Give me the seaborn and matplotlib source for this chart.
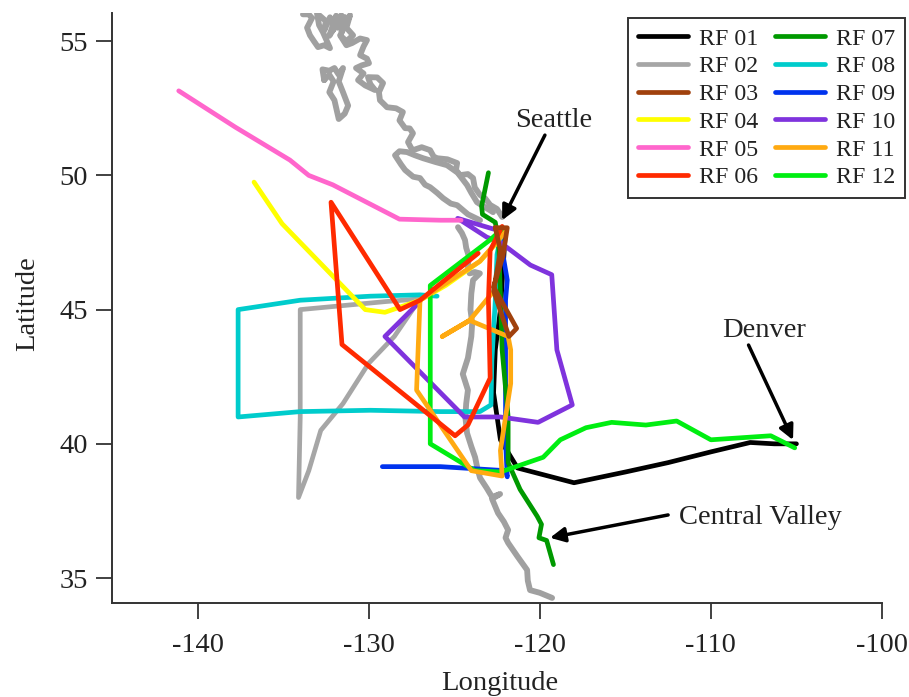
"""Flight tracks for research flights RF 01 - RF 12, plus the west coast outline."""

import matplotlib
matplotlib.use("Agg")
import matplotlib.pyplot as plt
import seaborn as sns

# Coast outline, one list per stretch
coast_north_lon = [-133.84, -133.5, -133.31, -133.6, -133.43, -133.2, -132.96, -132.6, -132.26, -132.67, -132.9, -133.02,
                   -132.5, -132.6, -132.26, -132.0, -132.3, -131.9, -132.1, -131.6, -131.8, -131.4, -131.6, -131.09,
                   -131.3, -130.91, -131.3, -131.67, -131.3, -130.97, -130.5, -130.1, -130.3, -130.5, -130.1, -129.98,
                   -130.4, -130.74, -130.3, -130.62, -130.2, -129.63, -129.9, -130.04, -129.5, -129.16, -129.4,
                   -129.34, -129.1, -128.93, -128.4, -128.0, -128.2, -127.87, -127.6, -127.41, -127.7, -127.5, -127.41,
                   -126.9, -126.41, -126.2, -126.0, -125.4, -124.83, -124.9, -124.66, -124.2, -123.9, -123.8, -123.49,
                   -123.2, -122.9, -122.5, -122.2]
coast_north_lat = [56.0, 56.0, 55.86, 55.5, 55.22, 55.0, 54.78, 54.85, 54.74, 55.33, 55.6, 56.04,
                   55.75, 55.4, 55.89, 55.5, 55.2, 55.95, 55.4, 55.97, 55.5, 55.9, 55.3, 55.97,
                   55.5, 55.22, 55.0, 55.22, 54.85, 54.93, 55.1, 55.04, 54.8, 54.48, 54.35, 54.18,
                   54.1, 54.0, 53.8, 53.55, 53.35, 53.18, 53.4, 53.66, 53.65, 53.44, 53.1,
                   52.8, 52.65, 52.54, 52.5, 52.36, 52.05, 51.76, 51.75, 51.57, 51.24, 51.0, 50.94,
                   51.05, 50.94, 50.7, 50.64, 50.6, 50.46, 50.2, 50.01, 50.05, 49.9, 49.55, 49.27,
                   49.15, 48.9, 48.75, 48.45]
coast_island_lon = [-123.49, -124.2, -124.83, -125.2, -125.65, -126.0, -126.41, -126.7, -127.0, -127.4, -127.87, -128.1,
                    -128.46, -128.2, -127.76, -127.3, -126.82, -126.1, -125.42, -124.8, -124.25, -124.0, -123.67, -122.73]
coast_island_lat = [48.33, 48.55, 48.89, 48.95, 49.15, 49.35, 49.56, 49.65, 49.9, 49.95, 50.2, 50.4,
                    50.75, 50.9, 50.87, 50.75, 50.64, 50.5, 50.38, 50.1, 49.64, 49.35, 49.0, 48.63]
coast_haida_lon = [-132.6, -132.7, -132.3, -132.0, -131.75, -131.5, -131.75, -131.5, -131.2, -131.4, -131.75, -132.0,
                   -132.3, -132.05, -132.3, -132.6]
coast_haida_lat = [53.55, 53.95, 53.9, 54.0, 53.75, 54.0, 53.5, 53.1, 52.6, 52.3, 52.1, 52.8,
                   53.1, 53.5, 53.75, 53.55]
coast_south_lon = [-124.78, -124.55, -124.37, -124.3, -124.15, -124.2, -124.1, -123.8, -123.5, -123.9, -124.0, -124.05, -123.95,
                   -124.0, -124.1, -124.2, -124.5, -124.35, -124.2, -124.3, -124.35, -124.25, -124.0, -123.78, -123.65, -123.49,
                   -123.1, -122.79, -122.32, -122.79, -122.44, -122.1, -121.85, -122.0, -121.85, -121.3, -120.74, -120.7, -120.57,
                   -120.0, -119.28]
coast_south_lat = [48.07, 47.85, 47.59, 47.3, 47.0, 46.6, 46.35, 46.4, 46.35, 46.1, 45.6, 45.0, 44.5,
                   44.0, 43.6, 43.2, 42.6, 42.3, 42.0, 41.5, 41.0, 40.4, 39.9, 39.5, 39.1, 38.73,
                   38.35, 38.02, 38.13, 37.95, 37.42, 37.1, 36.79, 36.5, 36.31, 35.8, 35.3, 34.9, 34.55,
                   34.45, 34.26]

# Flight tracks
rf01_lon = [-105.0, -106.3, -107.7, -110.0, -112.5, -115.0, -118.0, -121.3, -122.3, -122.7, -122.6, -122.3, -122.0]
rf01_lat = [40.0, 40.0, 40.05, 39.7, 39.3, 38.95, 38.55, 39.1, 40.15, 41.9, 43.5, 45.0, 48.0]
rf02_lon = [-127.0, -129.0, -134.0, -134.0, -134.1, -133.5, -132.8, -131.5, -130.0, -128.5, -127.0]
rf02_lat = [45.4, 45.3, 45.0, 41.0, 38.0, 39.0, 40.5, 41.5, 43.0, 44.0, 45.4]
rf03_lon = [-122.6, -121.9, -122.15, -122.7, -121.35, -121.8, -122.7, -122.3, -122.6]
rf03_lat = [48.05, 48.05, 47.0, 45.85, 44.3, 44.0, 45.7, 47.2, 48.05]
rf04_lon = [-136.7, -135.06, -132.55, -130.2, -129.05, -127.0, -125.5, -123.5, -122.5, -122.0]
rf04_lat = [49.75, 48.2, 46.55, 45.0, 44.9, 45.35, 45.9, 46.8, 47.5, 48.0]
rf05_lon = [-141.1, -137.8, -134.6, -133.5, -132.1, -128.2, -125.8, -124.6]
rf05_lat = [53.15, 51.8, 50.57, 50.0, 49.65, 48.37, 48.33, 48.33]
rf06_lon = [-123.6, -127.0, -128.17, -132.2, -131.56, -124.95, -124.2, -122.9, -123.0, -122.9, -122.2]
rf06_lat = [47.1, 45.35, 45.0, 49.0, 43.7, 40.3, 40.7, 42.45, 45.35, 47.2, 48.1]
rf07_lon = [-123.0, -123.4, -123.35, -122.6, -122.4, -122.2, -121.85, -121.85, -121.15, -120.15, -119.9, -120.05, -119.6, -119.2]
rf07_lat = [50.1, 48.85, 48.55, 48.25, 47.5, 43.5, 41.0, 39.3, 38.3, 37.3, 37.0, 36.5, 36.4, 35.5]
rf08_lon = [-126.0, -127.0, -129.9, -134.0, -137.63, -137.63, -134.0, -129.9, -125.8, -123.5, -122.85, -122.8, -122.6, -122.5, -122.2]
rf08_lat = [45.5, 45.55, 45.5, 45.35, 45.0, 41.0, 41.2, 41.25, 41.2, 41.2, 41.45, 43.1, 45.35, 47.05, 48.0]
rf09_lon = [-129.2, -125.8, -122.0, -121.9, -122.0, -122.0, -121.9, -122.3, -122.0]
rf09_lat = [39.15, 39.15, 39.0, 38.77, 40.1, 45.35, 46.1, 47.6, 48.0]
rf10_lon = [-127.0, -129.05, -124.4, -122.3, -120.1, -118.1, -119.0, -119.3, -120.55, -122.3, -123.1, -124.8, -122.7]
rf10_lat = [45.3, 44.0, 41.0, 41.0, 40.8, 41.45, 43.5, 46.3, 46.66, 47.5, 47.7, 48.4, 48.0]
rf11_lon = [-122.0, -123.5, -127.0, -127.2, -124.0, -122.2, -122.3, -121.7, -121.7, -121.85, -124.1, -125.7, -124.1, -122.8]
rf11_lat = [47.9, 46.8, 45.35, 42.0, 39.0, 38.8, 39.75, 42.25, 43.5, 44.0, 44.6, 44.0, 44.6, 45.6]
rf12_lon = [-105.1, -106.5, -110.0, -112.0, -113.8, -115.8, -117.3, -118.8, -119.8, -122.3, -123.8, -126.4, -126.4, -122.9, -122.2]
rf12_lat = [39.85, 40.3, 40.15, 40.85, 40.7, 40.8, 40.6, 40.15, 39.5, 38.95, 39.0, 40.0, 45.9, 47.6, 48.0]

flight_names = ["RF 01", "RF 02", "RF 03", "RF 04", "RF 05", "RF 06",
                "RF 07", "RF 08", "RF 09", "RF 10", "RF 11", "RF 12"]
flight_lons = [rf01_lon, rf02_lon, rf03_lon, rf04_lon, rf05_lon, rf06_lon,
               rf07_lon, rf08_lon, rf09_lon, rf10_lon, rf11_lon, rf12_lon]
flight_lats = [rf01_lat, rf02_lat, rf03_lat, rf04_lat, rf05_lat, rf06_lat,
               rf07_lat, rf08_lat, rf09_lat, rf10_lat, rf11_lat, rf12_lat]
flight_colors = ["#000000", "#a6a6a6", "#a0410d", "#ffff00", "#ff66cc", "#ff2a00",
                 "#009900", "#00cccc", "#0033ee", "#7f33dd", "#ffaa11", "#00ee11"]
draw_order = [0, 1, 8, 7, 6, 9, 3, 4, 11, 10, 5, 2]

x_ticks = [-140, -130, -120, -110, -100]
y_ticks = [35, 40, 45, 50, 55]

sns.set_style("ticks")
plt.rcParams["font.family"] = ["Liberation Serif", "DejaVu Serif"]
plt.rcParams["axes.unicode_minus"] = False

fig = plt.figure(figsize=(9.09, 6.97), dpi=100)
ax = fig.add_axes([112 / 909, 1 - 603 / 697, 770 / 909, 590 / 697])

coast = [(coast_north_lon, coast_north_lat), (coast_island_lon, coast_island_lat),
         (coast_haida_lon, coast_haida_lat), (coast_south_lon, coast_south_lat)]
for lons, lats in coast:
    sns.lineplot(x=lons, y=lats, sort=False, estimator=None, color="#a0a0a0", lw=4.2, ax=ax, zorder=1,
                 solid_joinstyle="round", solid_capstyle="round")

for z, i in enumerate(draw_order):
    sns.lineplot(x=flight_lons[i], y=flight_lats[i], sort=False, estimator=None,
                 color=flight_colors[i], lw=3.4, ax=ax, zorder=2 + z,
                 solid_joinstyle="round", solid_capstyle="round")

ax.set_xlim(-145, -100)
ax.set_ylim(34.07, 56.05)
ax.set_xticks(x_ticks)
ax.set_yticks(y_ticks)
ax.tick_params(labelsize=20.5, length=11.5, width=1.3, color="#333333", labelcolor="#222222")
ax.tick_params(axis="x", pad=10)
ax.tick_params(axis="y", pad=6)
ax.set_xlabel("Longitude", fontsize=20.5, color="#222222")
ax.set_ylabel("Latitude", fontsize=20.5, color="#222222")
ax.xaxis.set_label_coords(0.504, -0.115)
ax.yaxis.set_label_coords(-0.0935, 0.508)
for side in ["left", "bottom"]:
    ax.spines[side].set_linewidth(1.4)
    ax.spines[side].set_color("#333333")
sns.despine(ax=ax)

handles = [plt.Line2D([], [], color=c, lw=3.4, solid_capstyle="round") for c in flight_colors]
leg = ax.legend(handles, flight_names, ncol=2, loc="upper right", bbox_to_anchor=(905 / 909, 1 - 18 / 697),
                bbox_transform=fig.transFigure, fontsize=17.2, fancybox=False, framealpha=1,
                edgecolor="#333333", handlelength=2.1, handletextpad=0.45, columnspacing=0.7,
                labelspacing=0.25, borderaxespad=0, borderpad=0.42)
leg.get_frame().set_linewidth(1.4)
leg.set_zorder(30)
for t in leg.get_texts():
    t.set_color("#222222")

arrow = dict(arrowstyle="-|>", color="black", lw=2.5, mutation_scale=22, shrinkA=0, shrinkB=0)
ax.text(-119.2, 52.06, "Seattle", fontsize=20.5, color="#222222", ha="center", va="center", zorder=25)
ax.text(-106.9, 44.24, "Denver", fontsize=20.5, color="#222222", ha="center", va="center", zorder=25)
ax.text(-107.1, 37.27, "Central Valley", fontsize=20.5, color="#222222", ha="center", va="center", zorder=25)
ax.annotate("", xy=(-122.2, 48.33), xytext=(-119.7, 51.5), arrowprops=arrow, zorder=25)
ax.annotate("", xy=(-105.2, 40.14), xytext=(-107.8, 43.68), arrowprops=arrow, zorder=25)
ax.annotate("", xy=(-119.4, 36.5), xytext=(-112.5, 37.35), arrowprops=arrow, zorder=25)

fig.savefig("out.png", dpi=100)
plt.close(fig)
